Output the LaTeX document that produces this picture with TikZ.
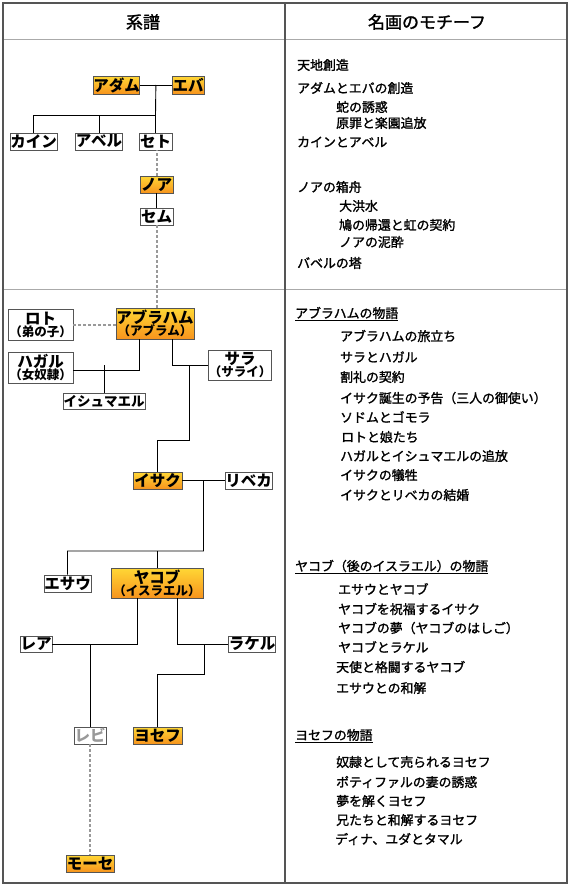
\documentclass[tikz,border=0pt]{standalone}
\usepackage{fontspec}
\setmainfont{Noto Sans CJK JP}
\newfontfamily\itemfont[FakeBold=1.5]{Noto Sans CJK JP}
\usetikzlibrary{calc}
\definecolor{frame}{HTML}{555555}
\definecolor{sepgray}{HTML}{AAAAAA}
\definecolor{dashgray}{HTML}{999999}
\definecolor{ortop}{HTML}{FFD735}
\definecolor{orbot}{HTML}{F7941D}
\begin{document}
\begin{tikzpicture}[x=1pt,y=-1pt,
  person/.style={draw=frame,line width=0.9pt,inner sep=0pt,align=center,
    font=\fontsize{15.5}{16}\selectfont\bfseries},
  plain/.style={person,fill=white},
  hero/.style={person,top color=ortop,bottom color=orbot},
  link/.style={line width=0.9pt,black},
  kin/.style={line width=2pt,dashgray,dash pattern=on 2.5pt off 2.5pt},
  item/.style={anchor=west,inner sep=0pt,font=\itemfont\fontsize{12.9}{13}\selectfont},
  head/.style={font=\itemfont\fontsize{17}{17}\selectfont}]
\useasboundingbox (0,0) rectangle (570,886);
% frame
\draw[sepgray,line width=1pt] (3,39) -- (567,39);
\draw[sepgray,line width=1pt] (3,289) -- (567,289);
\draw[frame,line width=1.2pt] (285,3) -- (285,883);
\draw[frame,line width=1.5pt] (3,3) rectangle (567,883);
\node[head] (h1) at (143,22) {系譜};
\node[head] (h2) at (427,22) {名画のモチーフ};
% tree nodes
\node[hero,minimum width=45,minimum height=18] (adam) at (116.5,85) {アダム};
\node[hero,minimum width=32,minimum height=18] (eve) at (188,85) {エバ};
\node[plain,minimum width=47,minimum height=17] (cain) at (33.5,141.5) {カイン};
\node[plain,minimum width=46,minimum height=17] (abel) at (99,141.5) {アベル};
\node[plain,minimum width=33,minimum height=17] (seth) at (155.5,141.5) {セト};
\node[hero,minimum width=33,minimum height=17] (noah) at (156.5,184.5) {ノア};
\node[plain,minimum width=33,minimum height=17] (shem) at (156.5,216.5) {セム};
\node[hero,minimum width=78,minimum height=31] (abraham) at (155,323.5) {アブラハム\\[-4pt]{\fontsize{12.5}{12}\selectfont （アブラム）}};
\node[plain,minimum width=65,minimum height=31] (lot) at (40.5,324.5) {ロト\\[-4pt]{\fontsize{12.5}{12}\selectfont （弟の子）}};
\node[plain,minimum width=65,minimum height=31] (hagar) at (40.5,367.5) {ハガル\\[-4pt]{\fontsize{12.5}{12}\selectfont （女奴隷）}};
\node[plain,minimum width=82,minimum height=16,font=\fontsize{13.5}{14}\selectfont\bfseries] (ishmael) at (104,401) {イシュマエル};
\node[plain,minimum width=60,minimum height=30] (sarah) at (240,365) {サラ\\[-4pt]{\fontsize{12.5}{12}\selectfont （サライ）}};
\node[hero,minimum width=49,minimum height=17] (isaac) at (157.5,480.5) {イサク};
\node[plain,minimum width=47,minimum height=17] (rebekah) at (248.5,480.5) {リベカ};
\node[plain,minimum width=47,minimum height=17] (esau) at (67.5,583.5) {エサウ};
\node[hero,minimum width=92,minimum height=30] (jacob) at (157,583) {ヤコブ\\[-4pt]{\fontsize{12.5}{12}\selectfont （イスラエル）}};
\node[plain,minimum width=32,minimum height=16] (leah) at (36,644) {レア};
\node[plain,minimum width=46,minimum height=16] (rachel) at (252,644) {ラケル};
\node[plain,minimum width=32,minimum height=17,text=dashgray] (levi) at (90,735.5) {レビ};
\node[hero,minimum width=49,minimum height=17] (joseph) at (157.5,735.5) {ヨセフ};
\node[hero,minimum width=48,minimum height=17] (moses) at (90,863.5) {モーセ};
% connectors
\coordinate (m1) at ($(adam.east)!0.5!(eve.west)$);
\coordinate (b1) at (155.5,115);
\draw[link] (adam.east) -- (eve.west);
\draw[link] (m1) -- (b1);
\draw[link] (cain.north) |- (b1);
\draw[link] (abel.north) -- (abel.north |- b1);
\draw[link] (seth.north) -- (seth.north |- b1);
\draw[kin] (noah.north) -- (noah.north |- seth.south);
\draw[link] (noah.south) -- (noah.south |- shem.north);
\draw[kin] (shem.south) -- (shem.south |- abraham.north);
\draw[kin] (lot.east) -- (lot.east -| abraham.west);
\draw[link] ([xshift=24pt]abraham.south west) |- ([yshift=-2.5pt]hagar.east);
\draw[link] (ishmael.north) -- (ishmael.north |- sarah.west);
\draw[link] ([xshift=-22pt]abraham.south east) |- (sarah.west);
\coordinate (a1) at (189,365);
\coordinate (a2) at (189,440);
\draw[link] (a1) -- (a2) -| (isaac.north);
\draw[link] (isaac.east) -- (rebekah.west);
\coordinate (m2) at ($(isaac.east)!0.5!(rebekah.west)$);
\coordinate (b2) at (203.5,551);
\draw[link] (m2) -- (b2) -| (esau.north);
\draw[link] (jacob.north) -- (jacob.north |- b2);
\draw[link] ([xshift=27pt]jacob.south west) |- (leah.east);
\draw[link] (levi.north) -- (levi.north |- leah.east);
\draw[link] ([xshift=-26pt]jacob.south east) |- (rachel.west);
\coordinate (r1) at (204,644);
\coordinate (r2) at (204,674);
\draw[link] (r1) -- (r2) -| (joseph.north);
\draw[kin] (levi.south) -- (levi.south |- moses.north);
% right column
\node[item] (t1) at (297,65) {天地創造};
\node[item] (t2) at (297,88) {アダムとエバの創造};
\node[item] (t3) at (336,107) {蛇の誘惑};
\node[item] (t4) at (336,123) {原罪と楽園追放};
\node[item] (t5) at (297,142) {カインとアベル};
\node[item] (t6) at (297,187) {ノアの箱舟};
\node[item] (t7) at (339,206) {大洪水};
\node[item] (t8) at (339,225) {鳩の帰還と虹の契約};
\node[item] (t9) at (339,242) {ノアの泥酔};
\node[item] (t10) at (297,263) {バベルの塔};
\node[item] (u1) at (295,314) {\underline{アブラハムの物語}};
\node[item] (t11) at (340,336) {アブラハムの旅立ち};
\node[item] (t12) at (340,357) {サラとハガル};
\node[item] (t13) at (340,377) {割礼の契約};
\node[item] (t14) at (340,398) {イサク誕生の予告（三人の御使い）};
\node[item] (t15) at (340,417) {ソドムとゴモラ};
\node[item] (t16) at (341,437) {ロトと娘たち};
\node[item] (t17) at (340,456) {ハガルとイシュマエルの追放};
\node[item] (t18) at (340,475) {イサクの犠牲};
\node[item] (t19) at (340,495) {イサクとリベカの結婚};
\node[item] (u2) at (295,567) {\underline{ヤコブ（後のイスラエル）の物語}};
\node[item] (t20) at (338,589) {エサウとヤコブ};
\node[item] (t21) at (338,609) {ヤコブを祝福するイサク};
\node[item] (t22) at (338,628) {ヤコブの夢（ヤコブのはしご）};
\node[item] (t23) at (338,647) {ヤコブとラケル};
\node[item] (t24) at (336,667) {天使と格闘するヤコブ};
\node[item] (t25) at (336,688) {エサウとの和解};
\node[item] (u3) at (295,736) {\underline{ヨセフの物語}};
\node[item] (t26) at (336,762) {奴隷として売られるヨセフ};
\node[item] (t27) at (336,782) {ポティファルの妻の誘惑};
\node[item] (t28) at (336,801) {夢を解くヨセフ};
\node[item] (t29) at (336,820) {兄たちと和解するヨセフ};
\node[item] (t30) at (335,839) {ディナ、ユダとタマル};
\end{tikzpicture}
\end{document}
